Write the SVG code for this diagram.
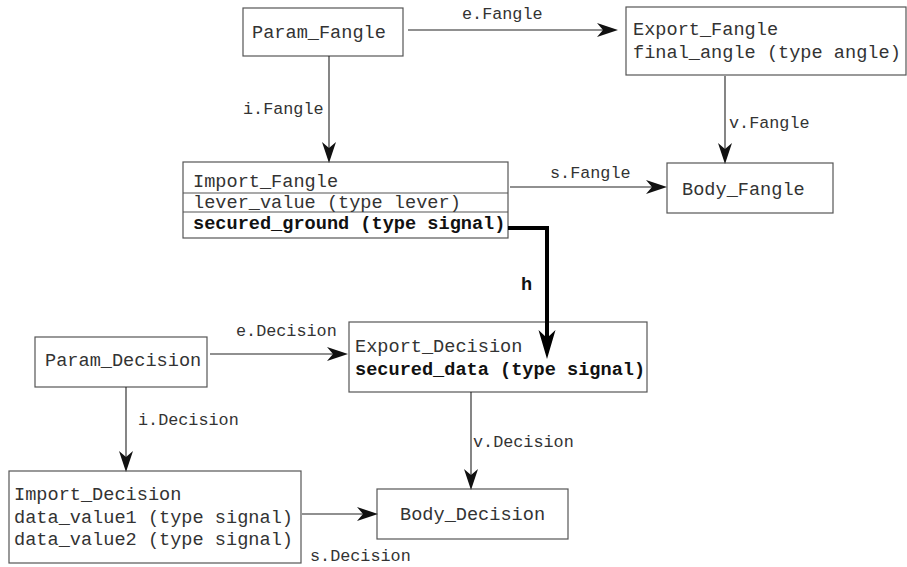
<svg xmlns="http://www.w3.org/2000/svg" width="907" height="567" viewBox="0 0 907 567">
<style>
.box{fill:#fff;stroke:#555;stroke-width:1.2}
.sep{stroke:#555;stroke-width:1.2}
.t{font-family:"Liberation Mono","DejaVu Sans Mono",monospace;font-size:18.6px;fill:#333}
.b{font-weight:bold;fill:#111}
.lbl{font-family:"Liberation Mono","DejaVu Sans Mono",monospace;font-size:16.8px;fill:#333}
.c{fill:none;stroke:#222;stroke-width:1.1}
.thick{fill:none;stroke:#000;stroke-width:4}
</style>
<defs>
<marker id="arr" markerUnits="userSpaceOnUse" markerWidth="22" markerHeight="16" refX="10" refY="7" orient="auto" viewBox="0 0 22 14">
<path d="M0,0 L21,7 L0,14 L6,7 Z" fill="#111"/>
</marker>
<marker id="arrT" markerUnits="userSpaceOnUse" markerWidth="30" markerHeight="18" refX="14" refY="8.5" orient="auto" viewBox="0 0 30 17">
<path d="M0,0 L29,8.5 L0,17 L8,8.5 Z" fill="#000"/>
</marker>
</defs>
<g id="Param_Fangle">
<rect class="box" x="243" y="8" width="160" height="48"/>
<text class="t" x="252" y="38">Param_Fangle</text>
</g>
<g id="Export_Fangle">
<rect class="box" x="626" y="7" width="280" height="68"/>
<text class="t" x="633" y="35">Export_Fangle</text>
<text class="t" x="633" y="58">final_angle (type angle)</text>
</g>
<g id="Import_Fangle">
<rect class="box" x="183" y="162" width="325" height="76"/>
<line class="sep" x1="183" y1="193" x2="508" y2="193"/>
<line class="sep" x1="183" y1="212" x2="508" y2="212"/>
<text class="t" x="193" y="187">Import_Fangle</text>
<text class="t" x="193" y="208">lever_value (type lever)</text>
<text class="t b" x="193" y="229">secured_ground (type signal)</text>
</g>
<g id="Body_Fangle">
<rect class="box" x="667" y="163" width="166" height="50"/>
<text class="t" x="682" y="195">Body_Fangle</text>
</g>
<g id="Param_Decision">
<rect class="box" x="35" y="337" width="172" height="50"/>
<text class="t" x="45" y="366">Param_Decision</text>
</g>
<g id="Export_Decision">
<rect class="box" x="349" y="322" width="298" height="70"/>
<text class="t" x="355" y="352">Export_Decision</text>
<text class="t b" x="355" y="375">secured_data (type signal)</text>
</g>
<g id="Import_Decision">
<rect class="box" x="9" y="471" width="292" height="92"/>
<text class="t" x="14" y="500">Import_Decision</text>
<text class="t" x="14" y="523">data_value1 (type signal)</text>
<text class="t" x="14" y="545">data_value2 (type signal)</text>
</g>
<g id="Body_Decision">
<rect class="box" x="377" y="489" width="191" height="50"/>
<text class="t" x="400" y="520">Body_Decision</text>
</g>
<g id="connectors">
<path class="c" d="M408,30 H607" marker-end="url(#arr)"/>
<path class="c" d="M329,56 V152" marker-end="url(#arr)"/>
<path class="c" d="M725,76 V153" marker-end="url(#arr)"/>
<path class="c" d="M510,187 H656" marker-end="url(#arr)"/>
<path class="thick" d="M508,228 H547 V344" marker-end="url(#arrT)"/>
<path class="c" d="M210,354 H337" marker-end="url(#arr)"/>
<path class="c" d="M126,387 V461" marker-end="url(#arr)"/>
<path class="c" d="M471,392 V479" marker-end="url(#arr)"/>
<path class="c" d="M302,514 H367" marker-end="url(#arr)"/>
<text class="lbl" x="462" y="19">e.Fangle</text>
<text class="lbl" x="243" y="114">i.Fangle</text>
<text class="lbl" x="729" y="128">v.Fangle</text>
<text class="lbl" x="550" y="178">s.Fangle</text>
<text class="t b" x="521" y="290">h</text>
<text class="lbl" x="236" y="336">e.Decision</text>
<text class="lbl" x="138" y="425">i.Decision</text>
<text class="lbl" x="473" y="447">v.Decision</text>
<text class="lbl" x="310" y="561">s.Decision</text>
</g>
</svg>
